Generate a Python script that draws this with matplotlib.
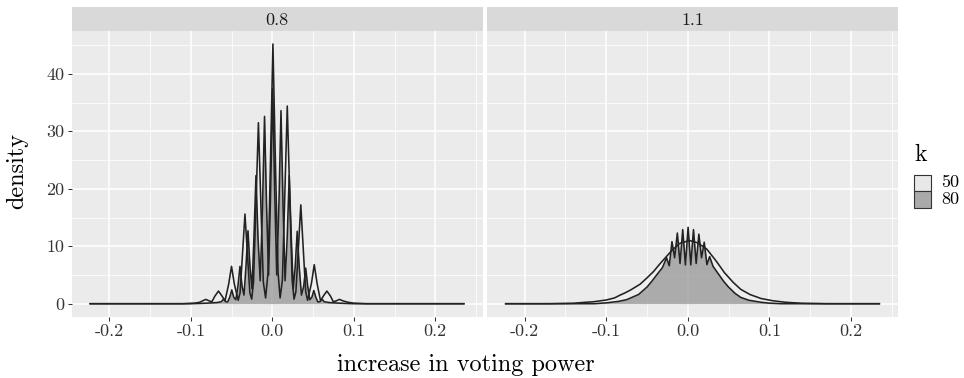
import matplotlib
matplotlib.use('Agg')
import matplotlib.pyplot as plt
from matplotlib.patches import Rectangle
from matplotlib.ticker import MultipleLocator

plt.rcParams['font.family'] = 'cmr10'
plt.rcParams['axes.unicode_minus'] = False
plt.rcParams['mathtext.fontset'] = 'cm'

# ---- data ----
facets = ['0.8', '1.1']
k_levels = ['50', '80']

x_ticks = [-0.2, -0.1, 0.0, 0.1, 0.2]
x_tick_labels = ['-0.2', '-0.1', '0.0', '0.1', '0.2']
y_ticks = [0, 10, 20, 30, 40]
y_tick_labels = ['0', '10', '20', '30', '40']

# facet 0.8, k = 50
x_08_k50 = [-0.2234, -0.11, -0.095, -0.089,
            -0.0855, -0.0815, -0.0775, -0.074,
            -0.0705, -0.066, -0.0615, -0.058,
            -0.0535, -0.050, -0.0465, -0.0418,
            -0.0395, -0.0368, -0.0335, -0.0302, -0.0275, -0.0252,
            -0.0230, -0.0203, -0.0170, -0.0137, -0.0110, -0.0082,
            -0.0052, -0.0025, 0.0008, 0.0041, 0.0071, 0.0096,
            0.0124, 0.0151, 0.0184, 0.0217, 0.0244, 0.0267,
            0.0290, 0.0317, 0.0350, 0.0383, 0.0410, 0.0433,
            0.0480, 0.0515, 0.0550, 0.0592,
            0.0625, 0.0670, 0.0715, 0.0748,
            0.0785, 0.0825, 0.0865, 0.093, 0.100, 0.115, 0.235]
y_08_k50 = [0, 0, 0.1, 0.25,
            0.5, 0.75, 0.5, 0.35,
            1.3, 2.2, 1.3, 0.5,
            3.4, 6.5, 3.4, 0.6,
            1.9, 8.0, 15.6, 8.0, 1.9, 0.8,
            3.8, 16.0, 31.5, 16.0, 3.8, 1.0,
            5.4, 23.0, 45.2, 23.0, 5.4, 1.0,
            4.1, 17.5, 34.4, 17.5, 4.1, 0.8,
            2.1, 8.8, 17.2, 8.8, 2.1, 0.6,
            3.5, 6.8, 3.5, 0.5,
            1.3, 2.2, 1.3, 0.35,
            0.5, 0.75, 0.5, 0.25, 0.1, 0, 0]

# facet 0.8, k = 80
x_08_k80 = [-0.2234, -0.10, -0.08, -0.068,
            -0.0625, -0.0598, -0.0570, -0.0548,
            -0.0522, -0.0497, -0.0472, -0.0447,
            -0.0421, -0.0396, -0.0371, -0.0347,
            -0.0323, -0.0298, -0.0273, -0.0249,
            -0.0225, -0.0200, -0.0175, -0.0148,
            -0.0120, -0.0095, -0.0070, -0.0045,
            -0.0020, 0.0005, 0.0030, 0.0055,
            0.0082, 0.0107, 0.0132, 0.0157,
            0.0183, 0.0208, 0.0233, 0.0257,
            0.0281, 0.0306, 0.0331, 0.0358,
            0.0385, 0.0410, 0.0435, 0.0460,
            0.0485, 0.0510, 0.0535, 0.0560,
            0.0585, 0.0610, 0.0637, 0.070, 0.082, 0.10, 0.235]
y_08_k80 = [0, 0, 0.1, 0.2,
            0.35, 0.8, 0.35, 0.3,
            1.1, 2.4, 1.1, 0.7,
            3.1, 6.5, 3.1, 1.5,
            6.4, 12.7, 6.4, 2.6,
            11.5, 22.3, 11.5, 4.0,
            16.8, 32.6, 17.0, 5.0,
            19.5, 37.5, 19.5, 5.0,
            17.5, 33.6, 17.3, 4.0,
            11.5, 22.3, 11.5, 2.6,
            6.4, 12.6, 6.3, 1.5,
            3.0, 6.2, 3.0, 0.7,
            1.1, 2.3, 1.1, 0.3,
            0.35, 0.8, 0.35, 0.2, 0.1, 0, 0]

# facet 1.1, k = 50
x_11_k50 = [-0.2234, -0.17, -0.14, -0.13, -0.115, -0.10, -0.09, -0.083, -0.0767, -0.07,
            -0.0584, -0.050, -0.042, -0.035, -0.030, -0.020, -0.010, 0.002, 0.012, 0.0233,
            0.030, 0.0355, 0.045, 0.0558, 0.065, 0.0763, 0.09, 0.105, 0.12, 0.14,
            0.17, 0.235]
y_11_k50 = [0, 0.0, 0.08, 0.2, 0.35, 0.65, 1.0, 1.5, 1.9, 2.4,
            3.4, 4.5, 5.6, 6.8, 7.6, 9.2, 10.5, 11.0, 10.6, 9.5,
            8.3, 7.3, 5.4, 3.7, 2.5, 1.6, 0.9, 0.5, 0.25, 0.08,
            0.0, 0]

# facet 1.1, k = 80
x_11_k80 = [-0.2234, -0.115, -0.10, -0.085, -0.075, -0.0604, -0.050, -0.0441, -0.036, -0.031,
            -0.0260, -0.0227, -0.0194, -0.0161, -0.0128, -0.0095, -0.0062, -0.0029, 0.0004, 0.0037,
            0.0070, 0.0103, 0.0136, 0.0169, 0.0202, 0.0235, 0.0268, 0.031, 0.036, 0.044,
            0.050, 0.058, 0.065, 0.075, 0.090, 0.100, 0.115, 0.235]
y_11_k80 = [0, 0, 0.15, 0.4, 0.7, 1.6, 2.9, 3.9, 5.4, 6.3,
            8.0, 6.6, 10.8, 8.0, 12.3, 7.0, 12.9, 6.75, 13.3, 6.75,
            12.9, 7.0, 12.1, 8.0, 10.7, 6.8, 8.2, 6.5, 5.5, 3.9,
            2.9, 1.8, 1.1, 0.6, 0.25, 0.1, 0, 0]

curves = {
    '0.8': [(x_08_k50, y_08_k50), (x_08_k80, y_08_k80)],
    '1.1': [(x_11_k50, y_11_k50), (x_11_k80, y_11_k80)],
}

# ---- styling ----
fill_colors = ['#F2F2F2', '#6A6A6A']
key_colors = ['#E8E8E8', '#A9A9A9']
line_color = '#222222'
W, H = 964, 378


def px_box(x0, y0, x1, y1):
    return [x0 / W, 1 - y1 / H, (x1 - x0) / W, (y1 - y0) / H]


panel_x = {'0.8': (71.5, 482.5), '1.1': (487, 898)}
panel_top, panel_bot, strip_top = 31, 316.7, 6.7

fig = plt.figure(figsize=(W / 100, H / 100), dpi=100)

for facet in facets:
    x0, x1 = panel_x[facet]
    ax = fig.add_axes(px_box(x0, panel_top, x1, panel_bot))
    ax.set_facecolor('#EBEBEB')
    for s in ax.spines.values():
        s.set_visible(False)

    for (xs, ys), fc in zip(curves[facet], fill_colors):
        ax.fill_between(xs, ys, 0, color=fc, alpha=0.5, lw=0, zorder=2)
        ax.plot(xs, ys, color=line_color, lw=1.15, zorder=3)

    ax.set_xlim(-0.2463, 0.2579)
    ax.set_ylim(-2.26, 47.46)
    ax.set_xticks(x_ticks)
    ax.set_xticklabels(x_tick_labels)
    ax.set_yticks(y_ticks)
    ax.set_yticklabels(y_tick_labels)
    ax.xaxis.set_minor_locator(MultipleLocator(0.05))
    ax.yaxis.set_minor_locator(MultipleLocator(5))
    ax.grid(which='major', color='white', lw=1.1)
    ax.grid(which='minor', color='white', lw=0.55)
    ax.set_axisbelow(True)
    ax.tick_params(which='major', length=2.75, width=0.75, color='#333333',
                   labelsize=13, labelcolor='#333333', pad=2.5)
    ax.tick_params(which='minor', length=0)
    if facet != facets[0]:
        ax.tick_params(axis='y', left=False, labelleft=False)

    sax = fig.add_axes(px_box(x0, strip_top, x1, panel_top))
    sax.set_facecolor('#D9D9D9')
    sax.set_xticks([])
    sax.set_yticks([])
    for s in sax.spines.values():
        s.set_visible(False)
    sax.text(0.5, 0.45, facet, ha='center', va='center', fontsize=13,
             color='#1A1A1A', transform=sax.transAxes)

fig.text(16.7 / W, 1 - 171 / H, 'density', rotation=90, ha='center',
         va='center', fontsize=17.5)
fig.text(466 / W, 1 - 365 / H, 'increase in voting power', ha='center',
         va='center', fontsize=17.5)

# legend, drawn by hand to match the ggplot guide layout
fig.text(914 / W, 1 - 161 / H, 'k', ha='left', va='baseline', fontsize=17)
key_top, key_h = 174.5, 16.8
for i, (lab, kc) in enumerate(zip(k_levels, key_colors)):
    top = key_top + i * key_h
    fig.add_artist(Rectangle((914 / W, 1 - (top + key_h) / H), 17 / W, key_h / H,
                             transform=fig.transFigure, facecolor=kc,
                             edgecolor='#333333', lw=0.8))
    fig.text(941 / W, 1 - (top + key_h / 2 - 0.5) / H, lab, ha='left',
             va='center', fontsize=13)

fig.savefig('out.png', dpi=100)
